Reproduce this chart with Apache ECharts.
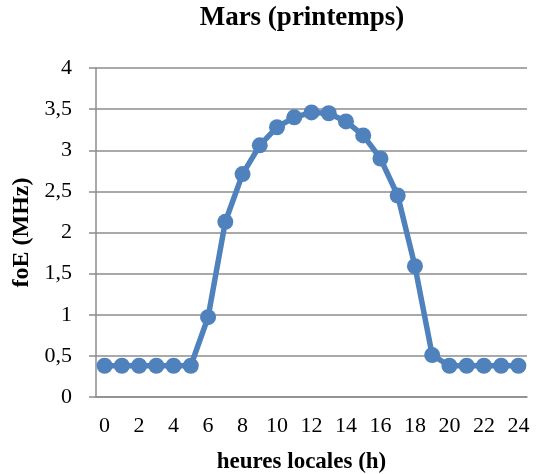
<!DOCTYPE html>
<html><head><meta charset="utf-8">
<script src="https://cdn.jsdelivr.net/npm/echarts@6/dist/echarts.min.js"></script>
<style>html,body{margin:0;padding:0;background:#fff}#c{width:540px;height:474px}</style>
</head><body><div id="c"></div>
<script>
var hours = ['0','1','2','3','4','5','6','7','8','9','10','11','12','13','14','15','16','17','18','19','20','21','22','23','24'];
var foE = [0.38,0.38,0.38,0.38,0.38,0.38,0.97,2.13,2.71,3.06,3.28,3.40,3.46,3.45,3.35,3.18,2.90,2.45,1.59,0.51,0.38,0.38,0.38,0.38,0.38];
var titleText = 'Mars (printemps)';
var xName = 'heures locales (h)';
var yName = 'foE (MHz)';
var serif = '"Liberation Serif","Times New Roman",serif';
var chart = echarts.init(document.getElementById('c'));
chart.setOption({
  animation:false,
  backgroundColor:'#fff',
  title:{text:titleText,left:297,textAlign:'center',top:0,textStyle:{fontFamily:serif,fontSize:27,fontWeight:'bold',color:'#000'}},
  grid:{left:96,right:13,top:68,bottom:77,containLabel:false,outerBoundsMode:'none'},
  xAxis:{type:'category',data:hours,boundaryGap:true,
    name:xName,nameLocation:'middle',nameGap:54,
    nameTextStyle:{fontFamily:serif,fontSize:23,fontWeight:'bold',color:'#000',padding:[0,20,0,0]},
    axisLine:{show:true,lineStyle:{color:'#8c8c8c',width:1.5}},
    axisTick:{show:false},
    axisLabel:{interval:1,margin:18,fontFamily:serif,fontSize:22,color:'#000'},
    splitLine:{show:false}},
  yAxis:{type:'value',min:0,max:4,interval:0.5,
    name:yName,nameLocation:'middle',nameGap:58,
    nameTextStyle:{fontFamily:serif,fontSize:24,fontWeight:'bold',color:'#000'},
    axisLine:{show:true,lineStyle:{color:'#8c8c8c',width:1.5}},
    axisTick:{show:true,length:7,lineStyle:{color:'#8c8c8c',width:1.5}},
    axisLabel:{margin:24,fontFamily:serif,fontSize:22,color:'#000',formatter:function(v){return String(v).replace('.',',');}},
    splitLine:{show:true,lineStyle:{color:'#8c8c8c',width:1.5}}},
  series:[{type:'line',data:foE,symbol:'circle',symbolSize:16,showSymbol:true,showAllSymbol:true,
    lineStyle:{color:'#4f81bd',width:5.5},itemStyle:{color:'#4f81bd'}}]
});
</script></body></html>
